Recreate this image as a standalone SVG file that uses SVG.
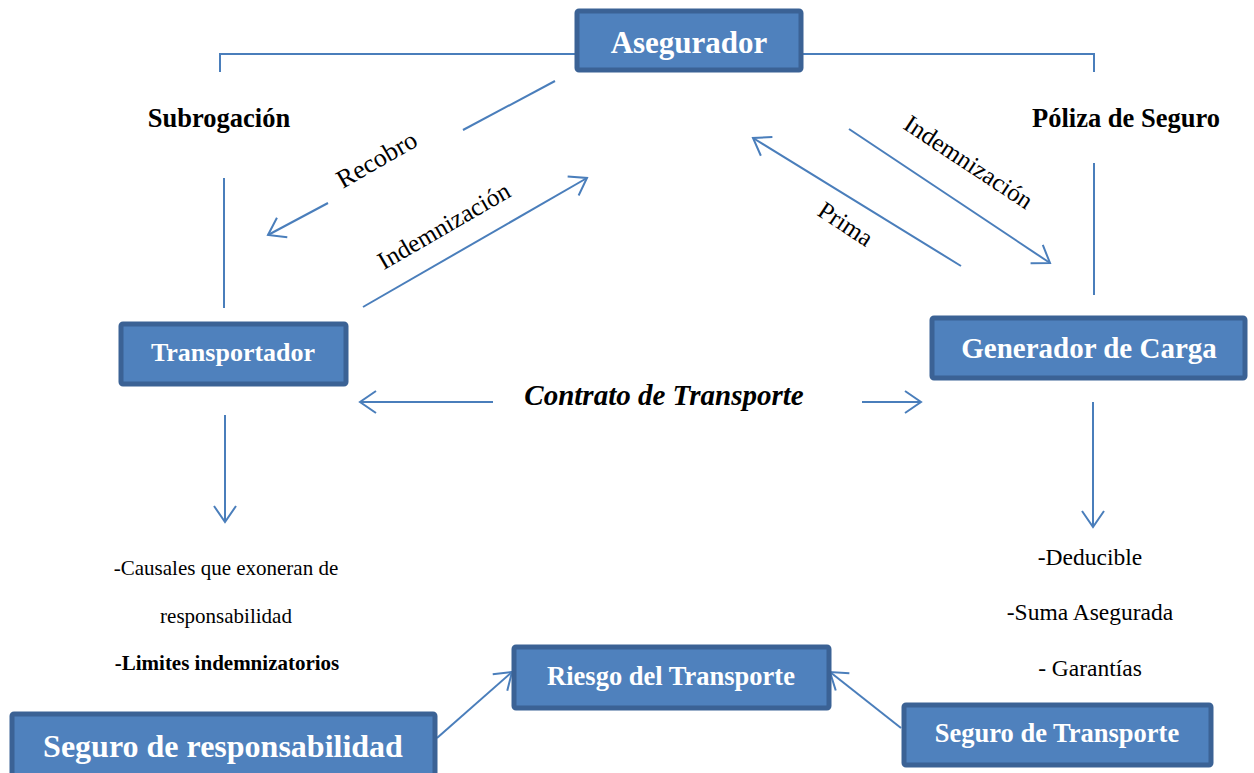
<svg xmlns="http://www.w3.org/2000/svg" width="1254" height="773" viewBox="0 0 1254 773">
<style>
.box{fill:#4F81BD;stroke:#3B6295;stroke-width:5}
.bt{font-family:"Liberation Serif","Times New Roman",serif;font-weight:bold;fill:#FFFFFF;text-anchor:middle}
.ln{stroke:#4A7EBB;stroke-width:2;fill:none}
.ar{stroke:#4A7EBB;stroke-width:2;fill:none;marker-end:url(#ah)}
.t{font-family:"Liberation Serif","Times New Roman",serif;fill:#000000;text-anchor:middle}
.b{font-weight:bold}
</style>
<defs>
<marker id="ah" markerUnits="userSpaceOnUse" markerWidth="40" markerHeight="40" viewBox="-20 -20 40 40" refX="0" refY="0" orient="auto" overflow="visible">
<path d="M-16,-11 L0,0 L-16,11" fill="none" stroke="#4A7EBB" stroke-width="2"/>
</marker>
</defs>
<rect width="1254" height="773" fill="#FFFFFF"/>
<g id="connectors">
<polyline class="ln" points="220,72 220,54 575,54"/>
<polyline class="ln" points="803,54 1094,54 1094,72"/>
<line class="ln" x1="224" y1="178" x2="224" y2="308"/>
<line class="ln" x1="1094" y1="163" x2="1094" y2="295"/>
<line class="ln" x1="555" y1="81" x2="463" y2="130"/>
<line class="ar" x1="328" y1="203" x2="268" y2="235"/>
<line class="ar" x1="363" y1="307" x2="587" y2="178"/>
<line class="ar" x1="961" y1="266" x2="753" y2="138"/>
<line class="ar" x1="849" y1="129" x2="1050" y2="263"/>
<line class="ar" x1="493" y1="402" x2="360" y2="402"/>
<line class="ar" x1="862" y1="402" x2="921" y2="402"/>
<line class="ar" x1="225" y1="415" x2="225" y2="522"/>
<line class="ar" x1="1093" y1="402" x2="1093" y2="527"/>
<line class="ar" x1="437" y1="738" x2="512" y2="672"/>
<line class="ar" x1="901" y1="728" x2="830" y2="672"/>
</g>
<g id="labels">
<text class="t b" x="219" y="127" font-size="26.5">Subrogación</text>
<text class="t b" x="1126" y="127" font-size="26.5">Póliza de Seguro</text>
<text class="t" font-size="26" transform="translate(381,167) rotate(-30)">Recobro</text>
<text class="t" font-size="25" transform="translate(448,233) rotate(-30)">Indemnización</text>
<text class="t" font-size="25" transform="translate(841,231) rotate(33.5)">Prima</text>
<text class="t" font-size="25" transform="translate(964,169) rotate(33.5)">Indemnización</text>
<text class="t b" x="664" y="405" font-size="29" font-style="italic">Contrato de Transporte</text>
<text class="t" x="226" y="575" font-size="21">-Causales que exoneran de</text>
<text class="t" x="226" y="623" font-size="21">responsabilidad</text>
<text class="t b" x="227" y="670" font-size="21">-Limites indemnizatorios</text>
<text class="t" x="1090" y="565" font-size="23.5">-Deducible</text>
<text class="t" x="1090" y="620" font-size="23.5">-Suma Asegurada</text>
<text class="t" x="1090" y="676" font-size="23.5">- Garantías</text>
</g>
<g id="asegurador">
<rect class="box" x="577" y="11" width="224" height="59" rx="2"/>
<text class="bt" x="689" y="53" font-size="31">Asegurador</text>
</g>
<g id="transportador">
<rect class="box" x="121" y="324" width="225" height="60" rx="2"/>
<text class="bt" x="233" y="361" font-size="26">Transportador</text>
</g>
<g id="generador">
<rect class="box" x="932" y="318" width="313" height="60" rx="2"/>
<text class="bt" x="1089" y="358" font-size="29">Generador de Carga</text>
</g>
<g id="riesgo">
<rect class="box" x="514" y="647" width="315" height="61" rx="2"/>
<text class="bt" x="671" y="685" font-size="26.5">Riesgo del Transporte</text>
</g>
<g id="seguro-transporte">
<rect class="box" x="904" y="705" width="307" height="60" rx="2"/>
<text class="bt" x="1057" y="742" font-size="26.5">Seguro de Transporte</text>
</g>
<g id="seguro-responsabilidad">
<rect class="box" x="12" y="714" width="423" height="64" rx="2"/>
<text class="bt" x="223" y="757" font-size="32">Seguro de responsabilidad</text>
</g>
</svg>
